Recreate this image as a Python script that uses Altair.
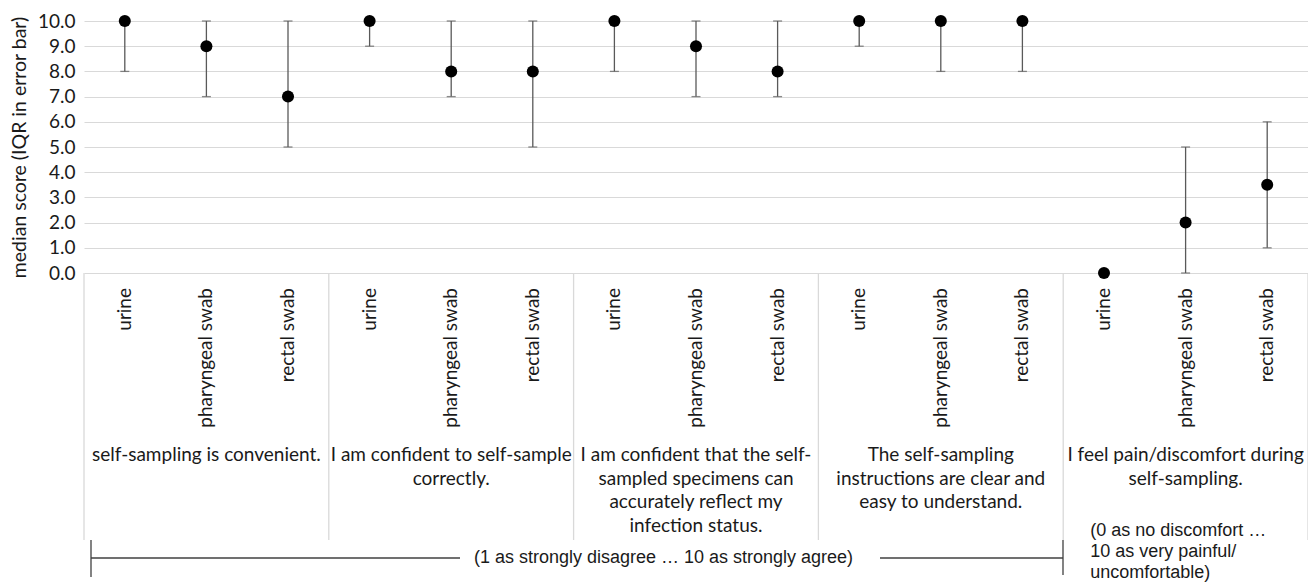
import altair as alt
import pandas as pd

statements = [
    "self-sampling is convenient.",
    "I am confident to self-sample\ncorrectly.",
    "I am confident that the self-\nsampled specimens can\naccurately reflect my\ninfection status.",
    "The self-sampling\ninstructions are clear and\neasy to understand.",
    "I feel pain/discomfort during\nself-sampling.",
]
samples = ["urine", "pharyngeal swab", "rectal swab"]
medians = [10, 9, 7, 10, 8, 8, 10, 9, 8, 10, 10, 10, 0, 2, 3.5]
q1 = [8, 7, 5, 9, 7, 5, 8, 7, 7, 9, 8, 8, 0, 0, 1]
q3 = [10, 10, 10, 10, 10, 10, 10, 10, 10, 10, 10, 10, 0, 5, 6]
y_ticks = [0, 1, 2, 3, 4, 5, 6, 7, 8, 9, 10]
agree_note = "(1 as strongly disagree … 10 as strongly agree)"
pain_note = "(0 as no discomfort …\n10 as very painful/\nuncomfortable)"

rows = []
for gi, st in enumerate(statements):
    for si, sm in enumerate(samples):
        k = gi * 3 + si
        rows.append({"pos": k + 0.5, "sample": sm, "median": medians[k],
                     "lo": q1[k], "hi": q3[k]})
df = pd.DataFrame(rows)
gdf = pd.DataFrame({"pos": [g * 3 + 1.5 for g in range(len(statements))],
                    "label": statements})
sep = pd.DataFrame({"pos": [0, 3, 6, 9, 12, 15]})

W, H = 1224, 252
CAL = "Lato"
ARI = "Liberation Sans"
TXT = "#1a1a1a"

x = alt.X("pos:Q", scale=alt.Scale(domain=[0, 15], nice=False, zero=False), axis=None)
y_axis = alt.Axis(values=y_ticks, tickCount=11, format=".1f", grid=True, gridColor="#d9d9d9",
                  domain=False, ticks=False, tickSize=0, labelPadding=9,
                  labelOverlap=False, labelFont=CAL, labelFontSize=19, labelColor=TXT,
                  title="median score (IQR in error bar)", titleFont=CAL,
                  titleFontSize=19.5, titleFontWeight="normal", titleColor=TXT,
                  titlePadding=8)
y_scale = alt.Scale(domain=[0, 10], nice=False)

base = alt.Chart(df)
bars = base.mark_rule(color="#595959", strokeWidth=1.3).encode(
    x=x, y=alt.Y("lo:Q", scale=y_scale, axis=y_axis), y2="hi:Q")
cap_lo = base.mark_tick(color="#595959", orient="horizontal", size=9, thickness=1.3).encode(
    x=x, y=alt.Y("lo:Q", scale=y_scale, axis=y_axis))
cap_hi = base.mark_tick(color="#595959", orient="horizontal", size=9, thickness=1.3).encode(
    x=x, y=alt.Y("hi:Q", scale=y_scale, axis=y_axis))
pts = base.mark_circle(color="black", size=145, opacity=1).encode(
    x=x, y=alt.Y("median:Q", scale=y_scale, axis=y_axis))

sample_lbl = base.mark_text(angle=270, align="right", baseline="middle",
                            font=CAL, fontSize=19, color=TXT).encode(
    x=x, y=alt.value(H + 15), text="sample:N")

seps = alt.Chart(sep).mark_rule(color="#d9d9d9", strokeWidth=1.3).encode(
    x=x, y=alt.value(H), y2=alt.value(519))

grp_lbl = alt.Chart(gdf).mark_text(align="center", baseline="top", lineBreak="\n",
                                   lineHeight=23.5, font=CAL, fontSize=19,
                                   color=TXT).encode(
    x=x, y=alt.value(425), text="label:N")

note_df = pd.DataFrame({"pos": [12], "t": [pain_note]})
pain = alt.Chart(note_df).mark_text(align="left", baseline="top", lineBreak="\n",
                                    lineHeight=21, font=ARI, fontSize=18, dx=27,
                                    color=TXT).encode(
    x=x, y=alt.value(501), text="t:N")

agree_df = pd.DataFrame({"t": [agree_note]})
agree = alt.Chart(agree_df).mark_text(align="center", baseline="middle", font=ARI,
                                      fontSize=18, color=TXT).encode(
    x=alt.value(579.5), y=alt.value(537), text="t:N")

line_l = alt.Chart(agree_df).mark_rule(color="#404040", strokeWidth=1.3).encode(
    x=alt.value(7), x2=alt.value(376), y=alt.value(537))
line_r = alt.Chart(agree_df).mark_rule(color="#404040", strokeWidth=1.3).encode(
    x=alt.value(796), x2=alt.value(979), y=alt.value(537))
tick_l = alt.Chart(agree_df).mark_rule(color="#404040", strokeWidth=1.3).encode(
    x=alt.value(7), y=alt.value(519), y2=alt.value(556))
tick_r = alt.Chart(agree_df).mark_rule(color="#404040", strokeWidth=1.3).encode(
    x=alt.value(979), y=alt.value(519), y2=alt.value(554))

chart = alt.layer(
    seps, bars, cap_lo, cap_hi, pts, sample_lbl, grp_lbl, pain, agree,
    line_l, line_r, tick_l, tick_r
).properties(
    width=W, height=H,
    autosize=alt.AutoSizeParams(type="none"),
    padding={"left": 76, "top": 13, "right": 0, "bottom": 310},
    background="white",
).configure_view(stroke=None)

chart.save("out.html", embed_options={"renderer": "svg", "actions": False})
